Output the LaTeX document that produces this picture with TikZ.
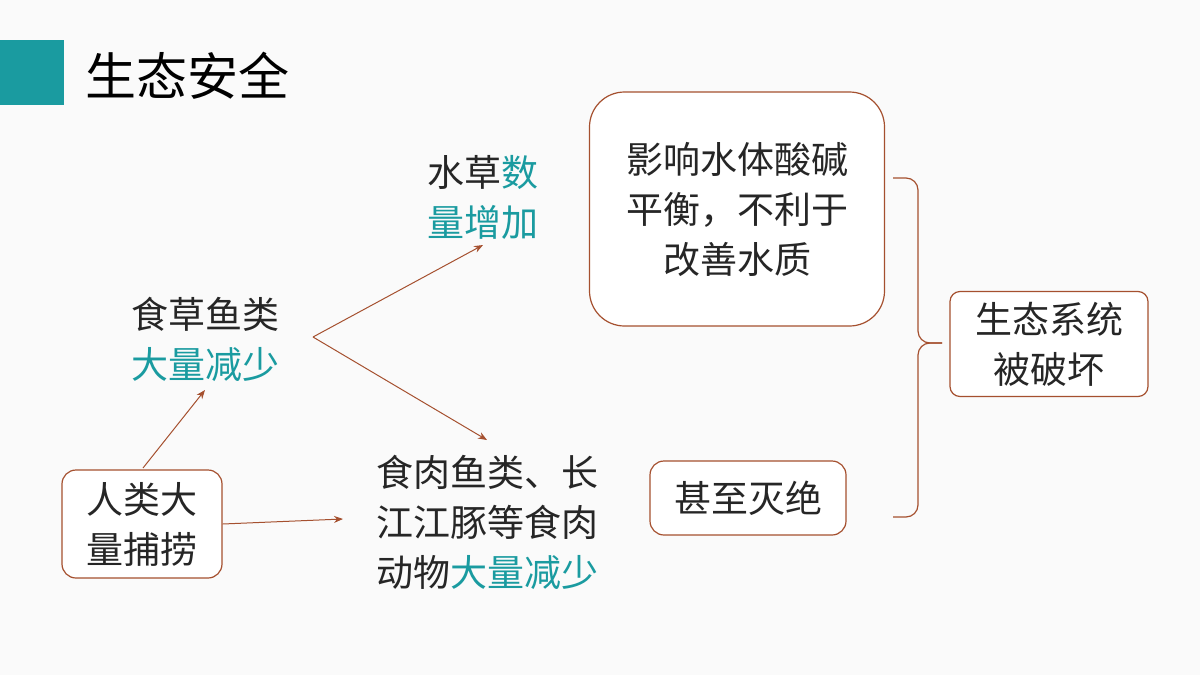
\documentclass[tikz,border=0pt]{standalone}
\usepackage{fontspec}
\setmainfont{Noto Sans CJK SC}
\usetikzlibrary{arrows.meta}
\definecolor{teal1}{HTML}{1A9BA0}
\definecolor{br}{HTML}{A5502F}
\definecolor{bg}{HTML}{FAFAFA}
\tikzset{
 box/.style={draw=br,line width=1.2pt,fill=white,rounded corners=14pt,align=center,inner sep=0pt},
 txt/.style={font=\fontsize{37}{50}\selectfont,text=black!85},
 arr/.style={draw=br,line width=1pt,-{Stealth[length=9pt,width=7pt]}}
}
\begin{document}
\begin{tikzpicture}[x=1pt,y=-1pt]
\fill[bg] (0,0) rectangle (1200,675);
\useasboundingbox (0,0) rectangle (1200,675);
\fill[teal1] (0,40) rectangle (64,105);
\node[anchor=west,font=\fontsize{51}{55}\selectfont,inner sep=0pt] (title) at (85,76) {生态安全};
\node[box,minimum width=160,minimum height=108,txt] (a) at (142,524) {人类大\\量捕捞};
\node[txt,align=center] (b) at (205,339) {食草鱼类\\\textcolor{teal1}{大量减少}};
\node[txt,align=center] (c) at (483,197) {水草\textcolor{teal1}{数}\\\textcolor{teal1}{量增加}};
\node[txt,align=left] (d) at (487,522) {食肉鱼类、长\\江江豚等食肉\\动物\textcolor{teal1}{大量减少}};
\node[box,rounded corners=35pt,minimum width=295,minimum height=234,txt] (e) at (737,209) {影响水体酸碱\\平衡，不利于\\改善水质};
\node[box,minimum width=196,minimum height=74,txt] (f) at (748,498) {甚至灭绝};
\node[box,rounded corners=10pt,minimum width=198,minimum height=105,txt] (g) at (1049,344) {生态系统\\被破坏};
\coordinate (bt) at (893,178);
\coordinate (bb) at (893,517);
\coordinate (tip) at (942,343);
\draw[br,line width=1.2pt,rounded corners=12pt] (bt) -- (918,178) -- (918,343) -- (tip);
\draw[br,line width=1.2pt,rounded corners=12pt] (bb) -- (918,517) -- (918,343) -- (tip);
\coordinate (p) at (313,337);
\draw[arr] (143,468) -- (205,390);
\draw[arr] (a.east) -- (343,519);
\draw[arr] (p) -- (483,245);
\draw[arr] (p) -- (487,440);
\end{tikzpicture}
\end{document}
